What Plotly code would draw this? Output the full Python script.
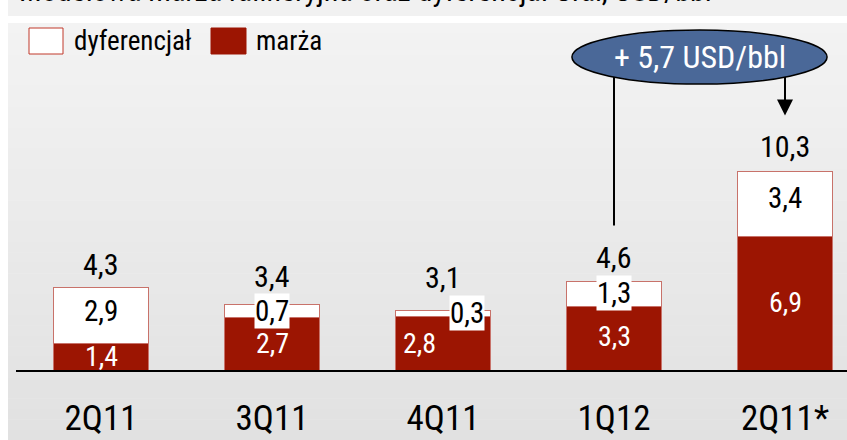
import plotly.graph_objects as go

# ---- data ----
categories = ["2Q11", "3Q11", "4Q11", "1Q12", "2Q11*"]
marza = [1.4, 2.7, 2.8, 3.3, 6.9]
dyferencjal = [2.9, 0.7, 0.3, 1.3, 3.4]
totals = [4.3, 3.4, 3.1, 4.6, 10.3]
change_label = "+ 5,7 USD/bbl"
title_text = "Modelowa marża rafineryjna oraz dyferencjał Ural, USD/bbl"

# ---- styles ----
FONT = "Liberation Sans Narrow, Arial Narrow, Roboto Condensed, DejaVu Sans Condensed, sans-serif"
RED = "#9c1502"
EDGE = "#c8726a"
total_yshift = [23, 28, 33, 24, 25]
marza_xshift = [0, 0, -24, 0, 0]
marza_yshift = [0, 0, 0, 2, 1]
dyf_xshift = [0, 0, 24, 0, 0]
dyf_yshift = [4, 0, 0, 1, 6]
dyf_boxed = [False, True, True, True, False]

W, H = 847, 440
L, R, T, B = 16, 0, 23, 70
PW, PH = W - L - R, H - T - B


def px(x):
    return (x - L) / PW


def py(y):
    return (H - B - y) / PH


def fmt(v):
    return f"{v:.1f}".replace(".", ",")


fig = go.Figure()
fig.add_trace(go.Bar(x=categories, y=marza, name="marża", marker_color=RED,
                     marker_line=dict(color=EDGE, width=1), width=0.55,
                     showlegend=False, hoverinfo="skip"))
fig.add_trace(go.Bar(x=categories, y=dyferencjal, name="dyferencjał", marker_color="white",
                     marker_line=dict(color=EDGE, width=1), width=0.55,
                     showlegend=False, hoverinfo="skip"))

shapes = []
# background gradient
n = 40
top_c, bot_c = (243, 243, 243), (225, 225, 225)
y_top, y_bot = 23, 440
for i in range(n):
    f = (i + 0.5) / n
    c = tuple(round(top_c[k] + (bot_c[k] - top_c[k]) * f) for k in range(3))
    ya = y_top + (y_bot - y_top) * i / n
    yb = y_top + (y_bot - y_top) * (i + 1) / n + 0.5
    shapes.append(dict(type="rect", xref="paper", yref="paper", layer="below",
                       x0=px(8), x1=px(847), y0=py(yb), y1=py(ya),
                       fillcolor=f"rgb{c}", line_width=0))
# title band
shapes.append(dict(type="rect", xref="paper", yref="paper", layer="below",
                   x0=px(8), x1=px(847), y0=py(16), y1=py(-2),
                   fillcolor="#f1f1f1", line_width=0))
# legend squares
shapes.append(dict(type="rect", xref="paper", yref="paper",
                   x0=px(29), x1=px(63), y0=py(54), y1=py(28),
                   fillcolor="white", line=dict(color="#c0392b", width=1)))
shapes.append(dict(type="rect", xref="paper", yref="paper",
                   x0=px(211), x1=px(246), y0=py(54), y1=py(28),
                   fillcolor=RED, line=dict(color=RED, width=1)))
# connector lines
shapes.append(dict(type="line", xref="x", yref="y", x0=3, x1=3, y0=7.5, y1=15.3,
                   line=dict(color="black", width=2)))
shapes.append(dict(type="line", xref="x", yref="y", x0=4, x1=4, y0=13.9, y1=15.3,
                   line=dict(color="black", width=2)))
# ellipse
shapes.append(dict(type="circle", xref="x", yref="y", x0=2.754, x1=4.246, y0=14.83, y1=17.63,
                   fillcolor="#4a6898", line=dict(color="black", width=1.5)))

annotations = []
# arrow head
annotations.append(dict(x=4, y=13.2, xref="x", yref="y", ax=0, ay=-24, text="",
                        showarrow=True, arrowhead=2, arrowsize=1.6, arrowwidth=2,
                        arrowcolor="black"))
annotations.append(dict(x=3.5, y=16.23, xref="x", yref="y", text=change_label,
                        showarrow=False, font=dict(family=FONT, size=32, color="white")))
# legend text
annotations.append(dict(x=px(72), y=py(41), xref="paper", yref="paper", xanchor="left",
                        yanchor="middle", text="dyferencjał", showarrow=False,
                        font=dict(family=FONT, size=27, color="black")))
annotations.append(dict(x=px(254), y=py(41), xref="paper", yref="paper", xanchor="left",
                        yanchor="middle", text="marża", showarrow=False,
                        font=dict(family=FONT, size=27, color="black")))
# title (cut off at top)
annotations.append(dict(x=px(17), y=py(10), xref="paper", yref="paper", xanchor="left",
                        yanchor="bottom", text=title_text, showarrow=False,
                        font=dict(family=FONT, size=30, color="black")))

for i, c in enumerate(categories):
    annotations.append(dict(x=c, y=totals[i], xref="x", yref="y", text=fmt(totals[i]),
                            showarrow=False, yanchor="middle", yshift=total_yshift[i],
                            font=dict(family=FONT, size=30, color="black")))
    annotations.append(dict(x=c, y=marza[i] / 2, xref="x", yref="y", text=fmt(marza[i]),
                            showarrow=False, yanchor="middle", xshift=marza_xshift[i],
                            yshift=marza_yshift[i],
                            font=dict(family=FONT, size=28, color="white")))
    annotations.append(dict(x=c, y=marza[i] + dyferencjal[i] / 2, xref="x", yref="y",
                            text=fmt(dyferencjal[i]), showarrow=False, yanchor="middle",
                            xshift=dyf_xshift[i], yshift=dyf_yshift[i],
                            bgcolor="white" if dyf_boxed[i] else None, borderpad=0,
                            font=dict(family=FONT, size=29, color="black")))

fig.update_layout(
    width=W, height=H,
    margin=dict(l=L, r=R, t=T, b=B, pad=0, autoexpand=False),
    paper_bgcolor="white", plot_bgcolor="rgba(0,0,0,0)",
    barmode="stack", bargap=0.45,
    shapes=shapes, annotations=annotations,
    xaxis=dict(range=[-(101 - L) / 171, 4 + (847 - 785) / 171], showline=True,
               linecolor="black", linewidth=2, showgrid=False, zeroline=False,
               ticks="outside", ticklen=16, tickcolor="rgba(0,0,0,0)", automargin=False,
               tickfont=dict(family=FONT, size=35, color="black"), fixedrange=True),
    yaxis=dict(range=[0, PH / 19.28], visible=False, showgrid=False, zeroline=False,
               automargin=False, fixedrange=True),
    showlegend=False,
)

fig.write_html("out.html", config={"displayModeBar": False},
               post_script="document.body.style.margin='0';document.body.style.overflow='hidden';")
